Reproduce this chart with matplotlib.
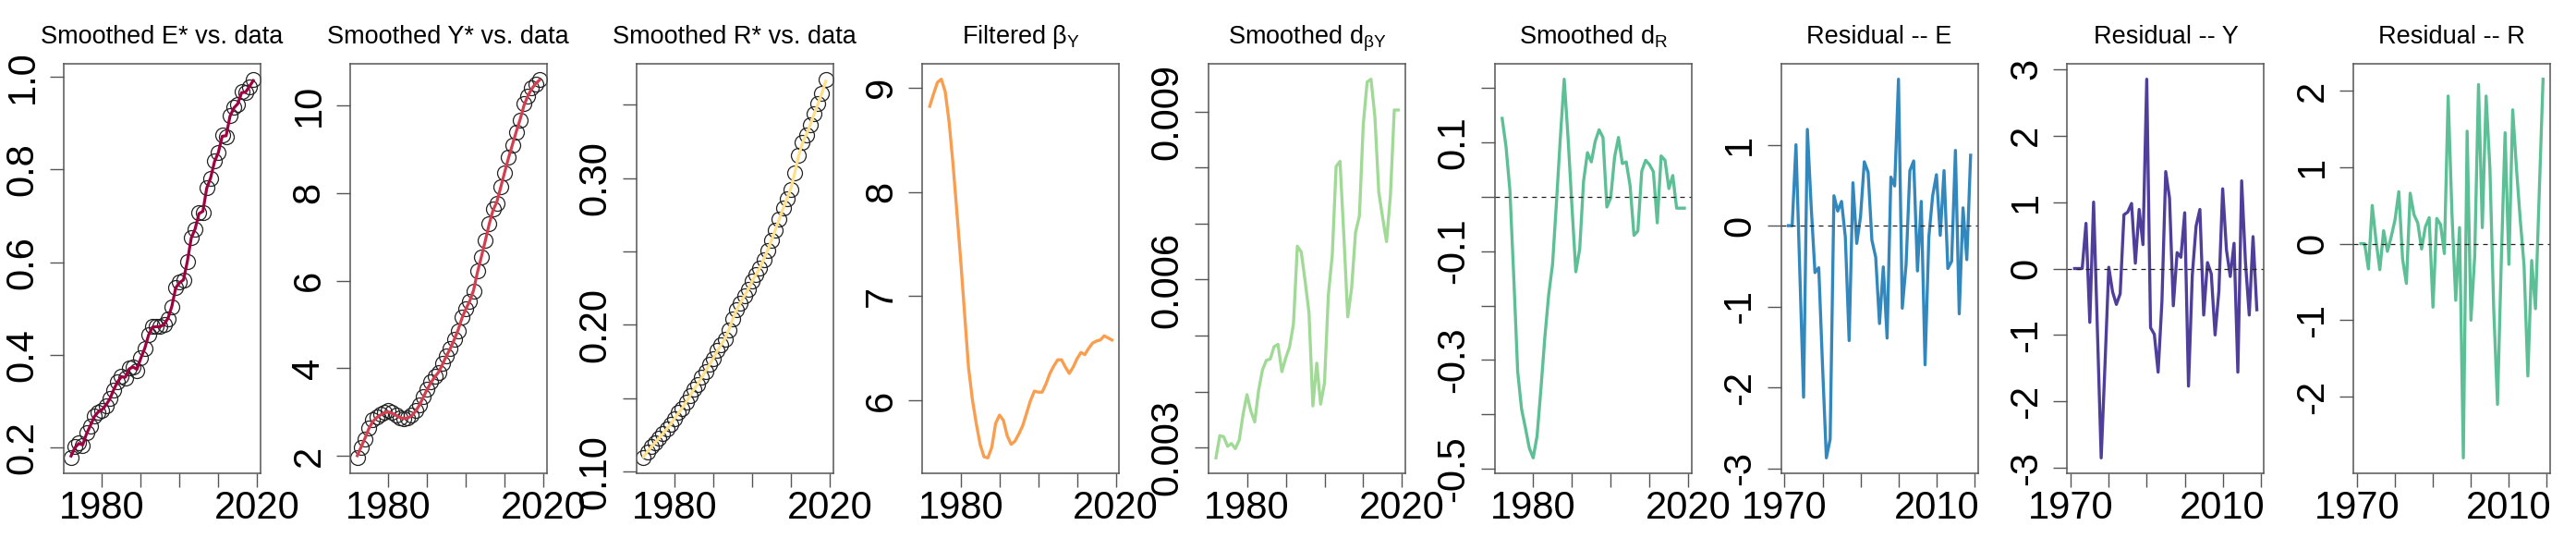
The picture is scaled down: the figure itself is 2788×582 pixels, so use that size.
import numpy as np
import matplotlib
matplotlib.use("Agg")
import matplotlib.pyplot as plt

plt.rcParams['font.family'] = ['Liberation Sans', 'DejaVu Sans']
plt.rcParams['mathtext.fontset'] = 'custom'
plt.rcParams['mathtext.rm'] = 'Liberation Sans'
plt.rcParams['mathtext.it'] = 'Liberation Sans:italic'

# years
anios = list(range(1972, 2020))
anios_res = list(range(1971, 2020))

# panel 1: E data vs smoothed
E_datos = [0.178, 0.202, 0.210, 0.204, 0.232, 0.247, 0.269, 0.276, 0.281, 0.291,
           0.306, 0.324, 0.343, 0.354, 0.350, 0.372, 0.374, 0.367, 0.394, 0.413,
           0.444, 0.461, 0.461, 0.461, 0.465, 0.478, 0.503, 0.546, 0.557, 0.561,
           0.601, 0.653, 0.671, 0.707, 0.708, 0.762, 0.781, 0.818, 0.836, 0.875,
           0.871, 0.917, 0.934, 0.941, 0.969, 0.966, 0.978, 0.995]
E_suave = [0.182, 0.200, 0.209, 0.206, 0.230, 0.248, 0.267, 0.277, 0.282, 0.292,
           0.305, 0.325, 0.342, 0.353, 0.352, 0.370, 0.374, 0.369, 0.393, 0.414,
           0.443, 0.460, 0.461, 0.461, 0.466, 0.479, 0.505, 0.545, 0.556, 0.562,
           0.602, 0.652, 0.672, 0.705, 0.710, 0.760, 0.782, 0.817, 0.837, 0.872,
           0.873, 0.915, 0.933, 0.942, 0.966, 0.967, 0.979, 0.992]

# panel 2: Y data vs smoothed
Y_datos = [1.95, 2.18, 2.37, 2.64, 2.82, 2.88, 2.94, 2.99, 3.03, 2.99,
           2.92, 2.86, 2.84, 2.86, 2.92, 3.03, 3.15, 3.34, 3.51, 3.69,
           3.81, 3.89, 4.10, 4.29, 4.45, 4.66, 4.86, 5.17, 5.36, 5.52,
           5.75, 6.22, 6.54, 6.92, 7.30, 7.63, 7.76, 8.14, 8.47, 8.82,
           9.09, 9.40, 9.67, 10.04, 10.22, 10.41, 10.49, 10.60]
Y_suave = [2.00, 2.20, 2.40, 2.62, 2.78, 2.87, 2.93, 2.98, 3.00, 2.97,
           2.92, 2.87, 2.85, 2.86, 2.91, 3.01, 3.15, 3.33, 3.51, 3.67,
           3.80, 3.91, 4.09, 4.28, 4.45, 4.65, 4.87, 5.14, 5.35, 5.53,
           5.78, 6.19, 6.54, 6.90, 7.28, 7.60, 7.80, 8.13, 8.47, 8.80,
           9.10, 9.40, 9.68, 10.00, 10.22, 10.38, 10.50, 10.58]

# panel 3: R data vs smoothed
R_datos = [0.1093, 0.1133, 0.1168, 0.1198, 0.1226, 0.1256, 0.1291, 0.1319, 0.1361, 0.1401,
           0.1431, 0.1473, 0.1517, 0.1562, 0.1594, 0.1641, 0.1683, 0.1730, 0.1769, 0.1823,
           0.1862, 0.1902, 0.1967, 0.2042, 0.2103, 0.2149, 0.2196, 0.2240, 0.2298, 0.2340,
           0.2387, 0.2445, 0.2508, 0.2573, 0.2648, 0.2718, 0.2795, 0.2858, 0.2923, 0.3035,
           0.3156, 0.3245, 0.3296, 0.3361, 0.3436, 0.3506, 0.3576, 0.3674]
R_suave = [0.1100, 0.1135, 0.1167, 0.1197, 0.1227, 0.1257, 0.1290, 0.1322, 0.1360, 0.1398,
           0.1433, 0.1473, 0.1516, 0.1560, 0.1597, 0.1640, 0.1684, 0.1728, 0.1771, 0.1820,
           0.1863, 0.1905, 0.1965, 0.2038, 0.2101, 0.2150, 0.2196, 0.2242, 0.2296, 0.2341,
           0.2388, 0.2446, 0.2507, 0.2574, 0.2646, 0.2719, 0.2792, 0.2859, 0.2928, 0.3033,
           0.3150, 0.3240, 0.3297, 0.3362, 0.3435, 0.3505, 0.3578, 0.3660]

# panel 4: filtered beta_Y
beta_Y = [8.82, 8.94, 9.05, 9.08, 8.96, 8.67, 8.27, 7.81, 7.34, 6.83,
          6.32, 6.01, 5.78, 5.58, 5.46, 5.45, 5.55, 5.78, 5.86, 5.81,
          5.66, 5.58, 5.61, 5.68, 5.76, 5.88, 6.00, 6.09, 6.08, 6.08,
          6.16, 6.26, 6.33, 6.39, 6.39, 6.32, 6.26, 6.32, 6.40, 6.46,
          6.44, 6.50, 6.55, 6.57, 6.58, 6.62, 6.60, 6.58]

# panel 5: smoothed d_betaY
d_beta = [0.002817, 0.003214, 0.003195, 0.003024, 0.003073, 0.002982, 0.003134, 0.003593,
          0.003947, 0.003654, 0.003458, 0.004020, 0.004387, 0.004558, 0.004582, 0.004802,
          0.004845, 0.004356, 0.004600, 0.004802, 0.005211, 0.006598, 0.006494, 0.005975,
          0.005413, 0.003745, 0.004509, 0.003776, 0.004155, 0.005731, 0.006433, 0.008021,
          0.008113, 0.006769, 0.005334, 0.005853, 0.006842, 0.007136, 0.008773, 0.009530,
          0.009579, 0.008907, 0.007563, 0.007105, 0.006678, 0.007502, 0.009029, 0.009029]

# panel 6: smoothed d_R
d_R = [0.144, 0.092, 0.011, -0.149, -0.321, -0.390, -0.425, -0.462, -0.480, -0.440,
       -0.353, -0.259, -0.180, -0.124, -0.011, 0.108, 0.216, 0.108, -0.018, -0.138,
       -0.096, 0.029, 0.081, 0.064, 0.102, 0.123, 0.109, -0.019, -0.002, 0.073,
       0.109, 0.061, 0.064, 0.020, -0.071, -0.063, 0.047, 0.067, 0.059, 0.046,
       -0.048, 0.075, 0.067, 0.015, 0.039, -0.021, -0.021, -0.021]

# panels 7-9: residuals
res_E = [0, 0, 1.00, -0.56, -2.12, 1.19, 0.24, -0.58, -0.52, -1.74,
         -2.87, -2.64, 0.37, 0.18, 0.30, -0.14, -1.42, 0.53, -0.22, 0.11,
         0.79, 0.66, -0.18, -0.39, -1.21, -0.51, -1.39, 0.60, 0.49, 1.81,
         -1.02, -0.48, 0.68, 0.80, -0.56, 0.30, -1.72, -0.14, 0.37, 0.63,
         -0.12, 0.68, -0.53, -0.44, 0.93, -1.09, 0.22, -0.42, 0.87]
res_Y = [0, 0, 0, 0.68, -0.81, 1.00, -0.92, -2.85, -1.45, 0.02,
         -0.35, -0.54, -0.38, 0.81, 0.85, 0.98, 0.08, 0.89, 0.36, 2.85,
         -0.89, -0.99, -1.56, -0.50, 1.46, 1.06, -0.56, 0.24, 0.17, 0.84,
         -1.77, -0.10, 0.64, 0.89, -0.70, 0.09, -0.08, -1.00, -0.34, 1.20,
         0.28, -0.12, 0.38, -1.56, 1.32, 0.10, -0.70, 0.48, -0.62]
res_R = [0, 0, -0.33, 0.50, 0.04, -0.34, 0.17, -0.10, 0.09, 0.31,
         0.68, -0.20, -0.52, 0.66, 0.38, 0.27, -0.07, 0.22, 0.34, -0.83,
         0.33, 0.25, -0.13, 1.93, 0.40, -0.74, 0.21, -2.80, 1.47, -1.00,
         -0.16, 2.08, 0.21, 1.93, 0.98, -0.85, -2.10, -0.22, 1.45, -0.27,
         1.75, 0.98, 0.31, -0.29, -1.73, -0.22, -0.85, 0.67, 2.15]

colores = ['#9E0142', '#D53E4F', '#FEE08B', '#F99D4E', '#A0DA96',
           '#5DBF95', '#3288BD', '#4F3F9A', '#5DBF95']

tam_ticks = 30
gris = '#555555'


def marco(ax, num):
    # position of each panel, taken from the reference pixels
    x0 = (69 + 309.78 * num) / 2788.0
    ax.set_position([x0, (582 - 511.7) / 582.0, 213.0 / 2788.0, (511.7 - 69.3) / 582.0])
    for s in ax.spines.values():
        s.set_color(gris)
        s.set_linewidth(1.1)
    ax.tick_params(length=10.5, width=1.0, color=gris, labelsize=tam_ticks)
    ax.tick_params(axis='x', pad=3.0)
    ax.tick_params(axis='y', pad=7.0)
    ax.margins(0.04)


def ejes(ax, xt, xl, yt, yl):
    ax.set_xticks(xt, xl)
    ax.set_yticks(yt, yl)
    for et in ax.get_yticklabels():
        et.set_rotation(90)
        et.set_va('center')


fig = plt.figure(figsize=(27.88, 5.82), dpi=100)
axs = [fig.add_axes([0, 0, 1, 1]) for i in range(9)]
for i, ax in enumerate(axs):
    marco(ax, i)

xt1 = [1980, 1990, 2000, 2010, 2020]
xl1 = ['1980', '', '', '', '2020']
xt2 = [1970, 1980, 1990, 2000, 2010, 2020]
xl2 = ['1970', '', '', '', '2010', '']

tam_tit = 19.5
pad_tit = 16

# 1
ax = axs[0]
ax.plot(anios, E_datos, 'o', ms=11.5, mfc='none', mec='#222222', mew=0.9)
ax.plot(anios, E_suave, color=colores[0], lw=2.3)
ax.set_title('Smoothed E* vs. data', fontsize=tam_tit, pad=pad_tit)
ejes(ax, xt1, xl1, [0.2, 0.4, 0.6, 0.8, 1.0], ['0.2', '0.4', '0.6', '0.8', '1.0'])

# 2
ax = axs[1]
ax.plot(anios, Y_datos, 'o', ms=11.5, mfc='none', mec='#222222', mew=0.9)
ax.plot(anios, Y_suave, color=colores[1], lw=2.3)
ax.set_title('Smoothed Y* vs. data', fontsize=tam_tit, pad=pad_tit)
ejes(ax, xt1, xl1, [2, 4, 6, 8, 10], ['2', '4', '6', '8', '10'])

# 3
ax = axs[2]
ax.plot(anios, R_datos, 'o', ms=11.5, mfc='none', mec='#222222', mew=0.9)
ax.plot(anios, R_suave, color=colores[2], lw=2.3)
ax.set_title('Smoothed R* vs. data', fontsize=tam_tit, pad=pad_tit)
ejes(ax, xt1, xl1, [0.10, 0.15, 0.20, 0.25, 0.30, 0.35],
     ['0.10', '', '0.20', '', '0.30', ''])

# 4
ax = axs[3]
ax.plot(anios, beta_Y, color=colores[3], lw=2.4)
ax.set_title(r'Filtered β$_{\mathrm{Y}}$', fontsize=tam_tit, pad=pad_tit)
ejes(ax, xt1, xl1, [6, 7, 8, 9], ['6', '7', '8', '9'])

# 5
ax = axs[4]
ax.plot(anios, d_beta, color=colores[4], lw=2.4)
ax.set_title(r'Smoothed d$_{\mathrm{βY}}$', fontsize=tam_tit, pad=pad_tit)
ejes(ax, xt1, xl1, [0.003, 0.004, 0.005, 0.006, 0.007, 0.008, 0.009],
     ['0.003', '', '', '0.006', '', '', '0.009'])

# 6
ax = axs[5]
ax.plot(anios, d_R, color=colores[5], lw=2.4)
ax.axhline(0, color='#222222', lw=0.9, ls=(0, (4, 4)))
ax.set_title(r'Smoothed d$_{\mathrm{R}}$', fontsize=tam_tit, pad=pad_tit)
ejes(ax, xt1, xl1, [-0.5, -0.4, -0.3, -0.2, -0.1, 0.0, 0.1, 0.2],
     ['-0.5', '', '-0.3', '', '-0.1', '', '0.1', ''])

# 7-9 residuals
residuos = [res_E, res_Y, res_R]
titulos = ['Residual -- E', 'Residual -- Y', 'Residual -- R']
yts = [[-3, -2, -1, 0, 1], [-3, -2, -1, 0, 1, 2, 3], [-2, -1, 0, 1, 2]]
for k in range(3):
    ax = axs[6 + k]
    ax.plot(anios_res, residuos[k], color=colores[6 + k], lw=2.4)
    ax.axhline(0, color='#222222', lw=0.9, ls=(0, (4, 4)))
    ax.set_title(titulos[k], fontsize=tam_tit, pad=pad_tit)
    ejes(ax, xt2, xl2, yts[k], [str(v) for v in yts[k]])

fig.savefig('out.png', dpi=100)
